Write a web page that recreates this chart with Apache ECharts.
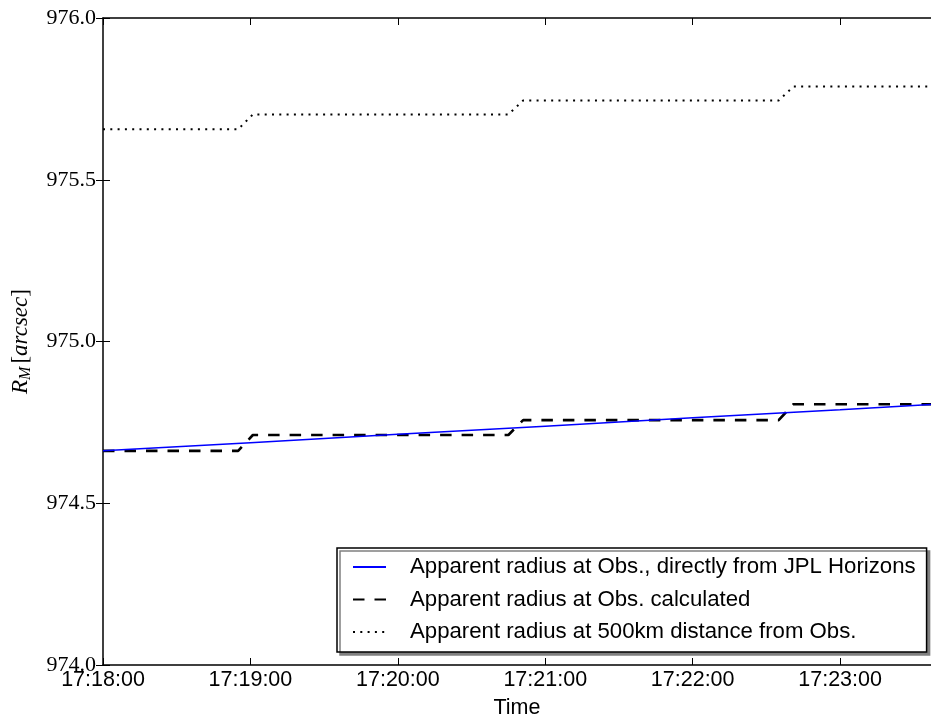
<!DOCTYPE html>
<html>
<head>
<meta charset="utf-8">
<script src="https://cdn.jsdelivr.net/npm/echarts@6/dist/echarts.min.js"></script>
<style>
html,body{margin:0;padding:0;background:#fff;}
#chart{width:931px;height:725px;}
</style>
</head>
<body>
<div id="chart"></div>
<script>
// ---- data ----
const horizonsTimes = ['17:18:00','17:19:00','17:20:00','17:21:00','17:22:00','17:23:00','17:23:37'];
const horizonsValues = [974.662, 974.687, 974.713, 974.738, 974.764, 974.789, 974.805];

const calcTimes = ['17:18:00','17:18:55','17:19:01','17:20:45','17:20:51','17:22:35','17:22:41','17:23:37'];
const calcValues = [974.662, 974.662, 974.711, 974.711, 974.757, 974.757, 974.806, 974.806];

const farTimes = ['17:18:00','17:18:55','17:19:01','17:20:45','17:20:51','17:22:35','17:22:41','17:23:37'];
const farValues = [975.656, 975.656, 975.702, 975.702, 975.745, 975.745, 975.788, 975.788];

const xStart = '17:18:00';
const xEnd = '17:23:37';
const yTicks = [974.0, 974.5, 975.0, 975.5, 976.0];

const seriesNames = [
  'Apparent radius at Obs., directly from JPL Horizons',
  'Apparent radius at Obs. calculated',
  'Apparent radius at 500km distance from Obs.'
];

// ---- helpers ----
function toSec(t){ const p=t.split(':').map(Number); return p[0]*3600+p[1]*60+p[2]; }
const base = toSec(xStart);
function rel(t){ return toSec(t)-base; }
function fmt(v){
  const s = Math.round(base+v);
  const h = Math.floor(s/3600), m = Math.floor((s%3600)/60), ss = s%60;
  const p = n => (n<10?'0':'')+n;
  return p(h)+':'+p(m)+':'+p(ss);
}
function pairs(ts, vs){ return ts.map((t,i)=>[rel(t), vs[i]]); }

const chart = echarts.init(document.getElementById('chart'), null, {renderer:'canvas'});
const sans = '"Liberation Sans", Arial, Helvetica, sans-serif';
const serif = '"Liberation Serif", "DejaVu Serif", serif';

const option = {
  animation: false,
  backgroundColor: '#fff',
  grid: { left: 103, top: 18, bottom: 60, right: -3, containLabel: false },
  xAxis: [
    {
      type: 'value', position: 'bottom',
      min: rel(xStart), max: rel(xEnd), interval: 60,
      axisLine: { show: true, onZero: false, lineStyle: { color: '#000', width: 1.5 } },
      axisTick: { show: true, inside: true, length: 7, lineStyle: { color: '#000', width: 1 } },
      axisLabel: { show: true, margin: 4, color: '#000', fontFamily: sans, fontSize: 21.5,
        showMaxLabel: false, formatter: v => fmt(v) },
      splitLine: { show: false },
      name: 'Time', nameLocation: 'middle', nameGap: 32,
      nameTextStyle: { color: '#000', fontFamily: sans, fontSize: 21.5 }
    },
    {
      type: 'value', position: 'top',
      min: rel(xStart), max: rel(xEnd), interval: 60,
      axisLine: { show: true, onZero: false, lineStyle: { color: '#000', width: 1.5 } },
      axisTick: { show: true, inside: true, length: 7, lineStyle: { color: '#000', width: 1 } },
      axisLabel: { show: false },
      splitLine: { show: false }
    }
  ],
  yAxis: [
    {
      type: 'value', position: 'left',
      min: yTicks[0], max: yTicks[yTicks.length-1], interval: 0.5,
      axisLine: { show: true, onZero: false, lineStyle: { color: '#000', width: 1.5 } },
      axisTick: { show: true, inside: true, length: 7, lineStyle: { color: '#000', width: 1 } },
      axisLabel: { margin: 7, color: '#000', fontFamily: serif, fontSize: 22,
        formatter: v => v.toFixed(1) },
      splitLine: { show: false },
      name: '{r|R}{m|M}{b|[}{t|arcsec}{b|]}',
      nameLocation: 'middle', nameRotate: 90, nameGap: 69,
      nameTextStyle: {
        color: '#000',
        rich: {
          r: { fontFamily: serif, fontStyle: 'italic', fontSize: 23, color: '#000' },
          m: { fontFamily: serif, fontStyle: 'italic', fontSize: 16, color: '#000', padding: [10, 3, 0, 0] },
          b: { fontFamily: serif, fontSize: 23, color: '#000' },
          t: { fontFamily: serif, fontStyle: 'italic', fontSize: 23, color: '#000' }
        }
      }
    },
    {
      type: 'value', position: 'right',
      min: yTicks[0], max: yTicks[yTicks.length-1], interval: 0.5,
      axisLine: { show: false },
      axisTick: { show: true, inside: true, length: 7, lineStyle: { color: '#000', width: 1 } },
      axisLabel: { show: false },
      splitLine: { show: false }
    }
  ],
  legend: {
    show: true,
    orient: 'vertical',
    left: 337, top: 548,
    padding: [8, 11, 9, 15],
    itemGap: 10.5,
    itemWidth: 33, itemHeight: 14,
    backgroundColor: '#fff',
    borderColor: '#000', borderWidth: 1.5, borderRadius: 0,
    shadowColor: '#808080', shadowBlur: 0, shadowOffsetX: 3, shadowOffsetY: 3,
    itemStyle: { opacity: 0 },
    textStyle: { color: '#000', fontFamily: sans, fontSize: 22.2, lineHeight: 22, padding: [0, 0, 0, 19] },
    data: seriesNames
  },
  series: [
    {
      name: seriesNames[0], type: 'line', xAxisIndex: 0, yAxisIndex: 0,
      data: pairs(horizonsTimes, horizonsValues),
      symbol: 'none', showSymbol: false,
      lineStyle: { color: '#0000ff', width: 1.5, type: 'solid' },
      itemStyle: { color: '#0000ff' },
      z: 3
    },
    {
      name: seriesNames[1], type: 'line', xAxisIndex: 0, yAxisIndex: 0,
      data: pairs(calcTimes, calcValues),
      symbol: 'none', showSymbol: false,
      lineStyle: { color: '#000', width: 2.6, type: [11.5, 10] },
      itemStyle: { color: '#000' },
      z: 2
    },
    {
      name: seriesNames[2], type: 'line', xAxisIndex: 0, yAxisIndex: 0,
      data: pairs(farTimes, farValues),
      symbol: 'none', showSymbol: false,
      lineStyle: { color: '#000', width: 2, type: [2, 5.3] },
      itemStyle: { color: '#000' },
      z: 2
    }
  ]
};
chart.setOption(option);
</script>
</body>
</html>
